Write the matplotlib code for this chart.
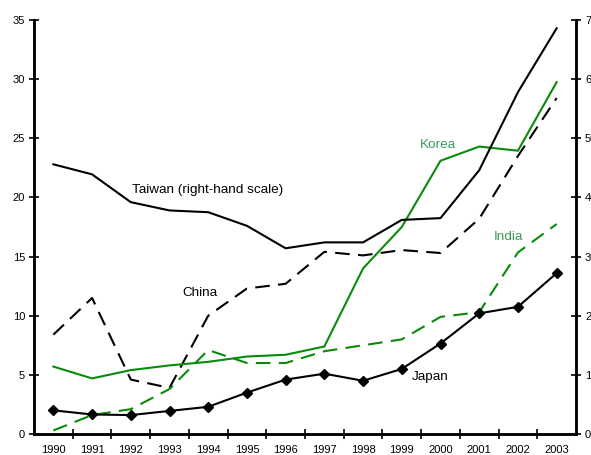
import matplotlib.pyplot as plt
import numpy as np

plt.rcParams['font.family'] = ['Liberation Sans', 'DejaVu Sans']

years = [str(y) for y in range(1990, 2004)]
taiwan = [45.6, 43.9, 39.2, 37.8, 37.5, 35.2, 31.4, 32.4, 32.4, 36.2, 36.5, 44.6, 57.8, 68.6]
china = [8.4, 11.5, 4.6, 3.9, 10.0, 12.3, 12.7, 15.4, 15.1, 15.55, 15.3, 18.2, 23.5, 28.4]
korea = [5.7, 4.7, 5.4, 5.8, 6.1, 6.55, 6.7, 7.4, 14.0, 17.5, 23.1, 24.3, 23.95, 29.75]
india = [0.3, 1.6, 2.1, 3.8, 7.1, 6.0, 6.0, 7.0, 7.5, 8.0, 9.9, 10.3, 15.35, 17.75]
japan = [2.0, 1.65, 1.6, 1.95, 2.3, 3.5, 4.6, 5.1, 4.5, 5.5, 7.65, 10.2, 10.75, 13.6]

green = '#0a8a0a'
label_green = '#3a9a5c'

fig = plt.figure(figsize=(5.91, 4.55), dpi=100)
ax = fig.add_axes([34 / 591, 21 / 455, 542 / 591, 414 / 455])
ax2 = ax.twinx()

x = np.arange(len(years))
dash = (0, (7, 4))

ax.plot(x, china, color='black', lw=1.5, linestyle=dash)
ax.plot(x, korea, color=green, lw=1.5)
ax.plot(x, india, color=green, lw=1.5, linestyle=dash)
ax.plot(x, japan, color='black', lw=1.5, marker='D', markersize=5.5)
ax2.plot(x, taiwan, color='black', lw=1.5)

ax.set_xlim(-0.5, len(years) - 0.5)
ax.set_ylim(0, 35)
ax2.set_ylim(0, 70)
ax.set_yticks(range(0, 36, 5))
ax2.set_yticks(range(0, 71, 10))
ax.set_xticks(x)
ax.set_xticklabels(years)
ax.set_xticks(np.arange(0.5, len(years) - 1, 1), minor=True)

ax.tick_params(axis='x', which='major', length=0, labelsize=8, pad=8)
ax.tick_params(axis='x', which='minor', direction='inout', length=7, width=1.2)
ax.tick_params(axis='y', direction='inout', length=7, width=1.2, labelsize=8, pad=3)
ax2.tick_params(axis='y', direction='inout', length=7, width=1.2, labelsize=8, pad=3)

for a in (ax, ax2):
    a.spines['top'].set_visible(False)
    for s in ('left', 'right', 'bottom'):
        a.spines[s].set_linewidth(1.8)

ax.text(2.03, 20.4, 'Taiwan (right-hand scale)', fontsize=9.7)
ax.text(3.33, 11.7, 'China', fontsize=9.7)
ax.text(9.47, 24.2, 'Korea', fontsize=9.7, color=label_green)
ax.text(11.37, 16.4, 'India', fontsize=9.7, color=label_green)
ax.text(9.27, 4.6, 'Japan', fontsize=9.7)

fig.savefig('out.png', dpi=100)
